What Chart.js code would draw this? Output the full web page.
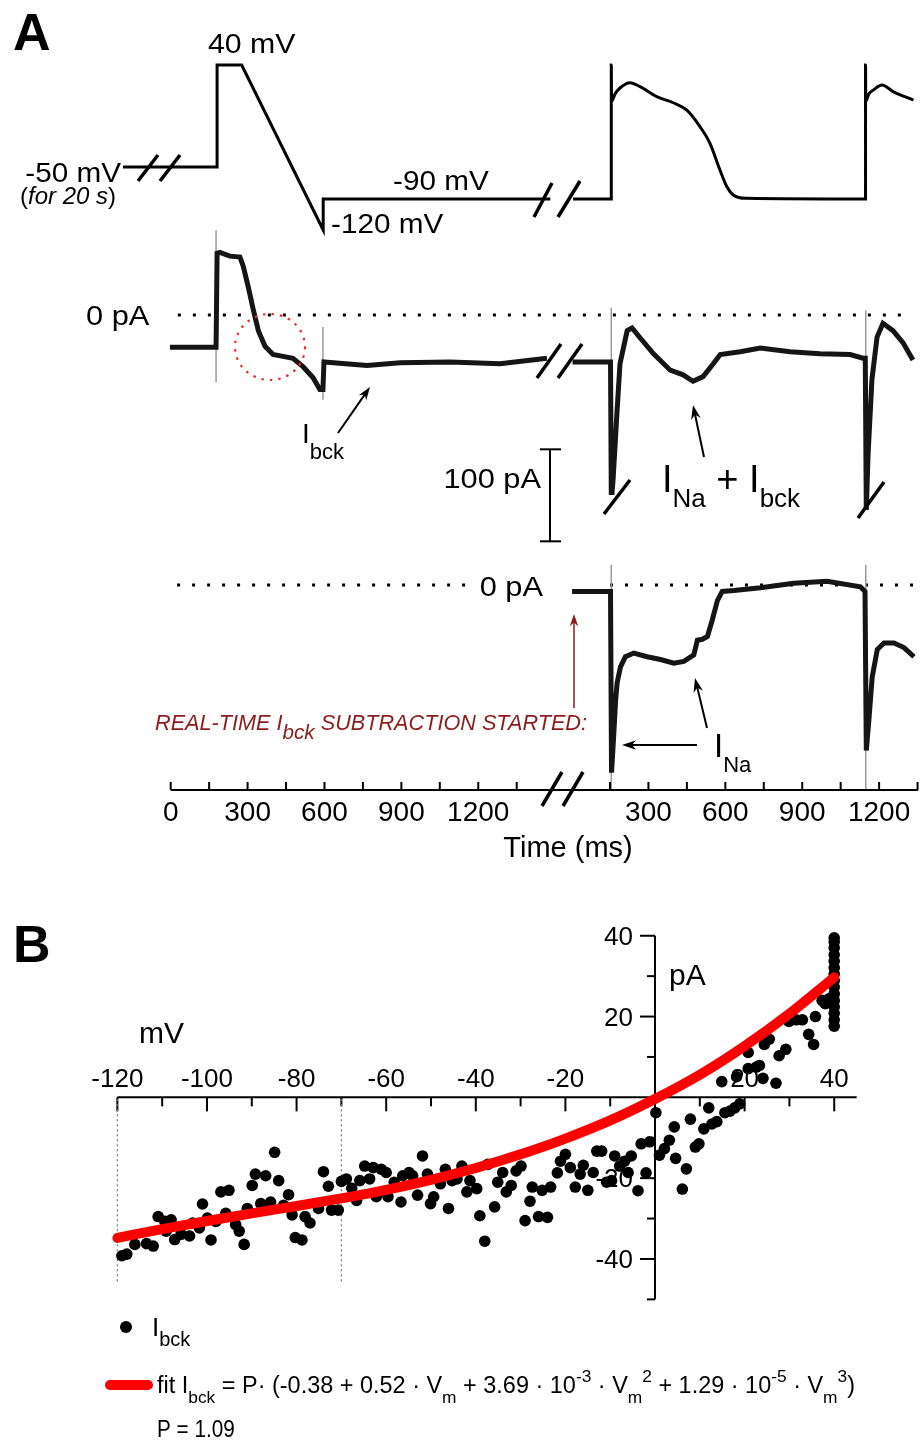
<!DOCTYPE html>
<html>
<head>
<meta charset="utf-8">
<script src="https://cdn.jsdelivr.net/npm/chart.js@4.4.1/dist/chart.umd.min.js"></script>
<style>
  html, body { margin: 0; padding: 0; background: #fff; }
  #wrap { position: relative; width: 920px; height: 1444px; }
  canvas { position: absolute; left: 0; }
  #chartA { top: 0; }
  #chartB { top: 880px; }
</style>
</head>
<body>
<div id="wrap">
  <canvas id="chartA" width="920" height="880"></canvas>
  <canvas id="chartB" width="920" height="564"></canvas>
</div>
<script>
const FONT = '"Liberation Sans", Arial, sans-serif';

// ---- Panel A: time in ms, the right part sits after the axis break ----
const BREAK_OFFSET = 1564;

// voltage protocol (mV)
const vLeftT   = [-186, 181, 181, 277, 595, 595, 1481];
const vLeftMv  = [-59, -59, 40, 40, -120, -90, -90];
const vRightT  = [6, 155, 155, 156, 170, 189, 228, 267, 332, 397, 449, 501, 540, 579, 606, 631, 683, 1147, 1147, 1148, 1160, 1178, 1211, 1256, 1334];
const vRightMv = [-90, -90, 40, 5, 12, 17.7, 22.8, 19, 9.3, 3.4, -3.6, -19.8, -35.9, -61.8, -78, -86, -89.3, -90, 40, 5, 12, 15.8, 20.6, 14, 6];

// current before subtraction (pA)
const i1LeftT   = [-3, 177, 181, 192, 231, 270, 283, 303, 322, 342, 368, 399, 438, 477, 516, 555, 582, 594, 598, 766, 895, 1090, 1285, 1468];
const i1LeftPa  = [-35, -35, 67, 68, 64, 63, 53, 30, 6, -17, -34, -43, -45, -47, -56, -68, -81, -81, -51, -55, -52, -51, -53, -47];
const i1RightT  = [4, 152, 155, 158, 162, 177, 189, 217, 236, 268, 319, 385, 435, 474, 513, 553, 580, 658, 736, 853, 969, 1087, 1137, 1146, 1150, 1157, 1172, 1192, 1215, 1254, 1293, 1332];
const i1RightPa = [-51, -51, -193, -193, -179, -107, -53, -17, -14, -25, -42, -60, -65, -72, -67, -53, -43, -40, -36, -40, -42, -43, -47, -47, -212, -151, -70, -24, -9, -17, -30, -49];

// current after real-time I_bck subtraction (pA)
const i2RightT  = [2, 152, 156, 165, 172, 178, 191, 210, 243, 295, 347, 399, 438, 477, 491, 510, 530, 549, 569, 588, 633, 737, 867, 997, 1127, 1145, 1150, 1160, 1173, 1193, 1219, 1258, 1297, 1336];
const i2RightPa = [-7, -7, -204, -161, -125, -106, -89, -78, -74, -78, -81, -85, -83, -76, -60, -59, -56, -38, -17, -7, -6, -3, 2, 4, -2, -7, -180, -147, -100, -70, -63, -63, -68, -78];

// capacitive transients (grey verticals)
const cap1LeftT = [177, 594],  cap1LeftTop = [92, -13],  cap1LeftBottom = [-73, -92];
const cap1RightT = [155, 1148], cap1RightTop = [8, 5],   cap1RightBottom = [-193, -212];
const cap2RightT = [155, 1148], cap2RightTop = [22, 22], cap2RightBottom = [-223, -223];

// 0 pA reference lines
const zero1Span = [28, 1300];      // left start, right end
const zero2Left = [25, 1149];
const zero2Right = [150, 1360];

// time axis
const tickLeft = [0, 150, 300, 450, 600, 750, 900, 1050, 1200, 1350];
const labelLeft = [0, 300, 600, 900, 1200];
const tickRight = [150, 300, 450, 600, 750, 900, 1050, 1200, 1350];
const labelRight = [300, 600, 900, 1200];

// ---- Panel B: I_bck vs Vm ----
const ibckVm = [
  -119.0, -117.9, -116.1, -113.5, -112.0, -110.9, -109.4, -108.0, -109.1, -107.2,
  -105.8, -103.9, -103.2, -101.7, -101.0, -99.9, -99.1, -98.0, -96.9, -95.1,
  -95.8, -93.6, -92.8, -91.7, -91.0, -89.9, -89.2, -86.9, -88.0, -85.8,
  -84.9, -84.0, -81.8, -82.9, -81.0, -80.3, -78.8, -78.1, -77.0, -75.1,
  -74.0, -72.9, -72.2, -70.7, -70.0, -68.9, -67.7, -66.6, -65.9, -64.8,
  -63.7, -62.9, -62.2, -61.1, -60.0, -59.6,
  -58.2, -56.7, -56.3, -54.9, -54.1, -53.0, -51.9, -50.8, -50.1, -49.4,
  -47.9, -46.8, -46.1, -45.3, -44.2, -43.1, -42.0, -41.3, -39.8, -39.1,
  -38.0, -37.3, -35.8, -35.1, -34.0, -33.2, -32.1, -31.0, -29.9, -29.0,
  -27.9, -27.4, -25.2, -23.3, -26.0, -24.0, -21.8, -21.1, -20.0, -18.9,
  -17.8, -16.7, -16.0, -15.0, -13.8, -13.0, -11.9, -10.8, -9.7, -9.0,
  -7.9, -6.8, -5.3, -6.0,
  0.2, -3.1, -1.2, -2.0, -3.8, 1.0, 2.1, 3.2, 4.3, 4.6,
  6.1, 7.0, 7.9, 9.0, 9.8, 10.9, 12.0, 12.7, 13.8, 14.9,
  15.6, 16.7, 17.8, 18.9, 18.2, 20.8, 20.8, 22.6, 23.3, 24.1,
  24.4, 25.5, 27.0, 27.7, 29.2, 29.9, 31.5, 32.9, 34.3, 35.4,
  35.8, 37.3, 38.0, 38.8,
  40, 40, 40, 40, 40, 40, 40, 40, 40, 40, 40, 40, 40, 40, 40
];
const ibckPa = [
  -39.2, -38.8, -36.4, -36.2, -36.8, -29.5, -30.7, -30.3, -33.1, -35.2,
  -33.9, -34.3, -31.1, -32.3, -26.4, -29.9, -35.3, -30.7, -23.4, -23.0,
  -28.7, -31.5, -33.1, -36.4, -27.5, -21.8, -19.0, -19.4, -26.3, -25.9,
  -13.6, -20.6, -24.1, -26.7, -29.1, -34.7, -35.3, -29.5, -31.1, -27.5,
  -18.4, -22.0, -27.9, -27.9, -20.8, -20.2, -22.5, -25.5, -20.6, -17.0,
  -20.2, -17.4, -24.6, -17.8, -18.6, -24.6,
  -21.0, -25.9, -19.4, -18.6, -19.4, -24.2, -14.5, -19.0, -26.3, -24.6,
  -21.4, -17.8, -27.5, -20.6, -20.2, -17.0, -23.4, -20.6, -22.6, -29.3,
  -35.6, -16.6, -27.1, -21.0, -18.6, -23.4, -21.8, -18.2, -17.0, -30.5,
  -25.7, -22.2, -23.0, -22.2, -29.5, -29.7, -18.7, -15.8, -14.1, -17.4,
  -22.2, -19.0, -16.8, -23.0, -18.6, -13.3, -13.3, -21.0, -20.6, -14.5,
  -17.0, -15.8, -14.5, -18.6,
  -3.8, -11.5, -11.0, -18.7, -23.1, -14.3, -12.7, -10.6, -7.3, -15.1,
  -22.7, -17.7, -5.4, -12.3, -11.5, -7.8, -2.6, -6.6, -6.0, 3.9,
  -3.8, -3.4, -2.6, -1.6, 5.1, 11.1, 7.1, 7.5, 7.9, 4.7,
  13.1, 14.4, 3.5, 10.3, 11.9, 18.8, 19.2, 19.2, 15.6, 13.1,
  20.0, 24.0, 23.2, 24.4,
  39.5, 38.5, 37.0, 35.3, 33.7, 32.1, 30.5, 28.9, 27.3, 25.6, 24.0, 22.4, 20.8, 19.2, 17.6
];
const fitVm = [-120, -110, -100, -90, -80, -70, -60, -50, -40, -30, -20, -10, 0, 10, 20, 30, 40];
const fitPa = [-34.8, -32.6, -30.6, -28.7, -26.9, -25.0, -22.9, -20.4, -17.5, -14.1, -10.2, -5.7, -0.4, 5.6, 12.7, 20.7, 29.7];
const xTicksB = [-120, -110, -100, -90, -80, -70, -60, -50, -40, -30, -20, -10, 10, 20, 30, 40];
const xLabelsB = [-120, -100, -80, -60, -40, -20, 20, 40];
const yTicksB = [40, 30, 20, 10, -10, -20, -30, -40, -50];
const yLabelsB = [40, 20, -20, -40];
const dottedVm = [-120, -70];

// ---------- helpers ----------
const pts = (xs, ys, off = 0) => xs.map((x, i) => ({ x: x + off, y: ys[i] }));

function verticals(ts, tops, bottoms, off = 0) {
  const out = [];
  ts.forEach((t, i) => {
    out.push({ x: t + off, y: tops[i] }, { x: t + off, y: bottoms[i] }, { x: t + off, y: null });
  });
  return out;
}

function rangeFor(value, px, pxPerUnit, size) {
  const max = value + px / pxPerUnit;
  return { min: max - size / pxPerUnit, max: max };
}

function rangeX(value, px, pxPerUnit, size) {
  const min = value - px / pxPerUnit;
  return { min: min, max: min + size / pxPerUnit };
}

function line(ctx, x1, y1, x2, y2) {
  ctx.beginPath(); ctx.moveTo(x1, y1); ctx.lineTo(x2, y2); ctx.stroke();
}

function slash(ctx, cx, cy, dx, dy) {
  ctx.save(); ctx.lineWidth = 3.5; ctx.strokeStyle = '#000'; ctx.lineCap = 'butt';
  line(ctx, cx - dx, cy + dy, cx + dx, cy - dy);
  ctx.restore();
}

function arrow(ctx, x1, y1, x2, y2, color, lw, head) {
  ctx.save(); ctx.strokeStyle = color; ctx.fillStyle = color; ctx.lineWidth = lw;
  const a = Math.atan2(y2 - y1, x2 - x1);
  line(ctx, x1, y1, x2 - Math.cos(a) * head * 0.6, y2 - Math.sin(a) * head * 0.6);
  ctx.beginPath();
  ctx.moveTo(x2, y2);
  ctx.lineTo(x2 - head * Math.cos(a - 0.33), y2 - head * Math.sin(a - 0.33));
  ctx.lineTo(x2 - head * 0.65 * Math.cos(a), y2 - head * 0.65 * Math.sin(a));
  ctx.lineTo(x2 - head * Math.cos(a + 0.33), y2 - head * Math.sin(a + 0.33));
  ctx.closePath(); ctx.fill();
  ctx.restore();
}

// parts: [text, 'n' | 'b' (sub) | 'p' (sup), italic?]
function rich(ctx, x, y, parts, o) {
  const size = o.size, small = o.small || size * 0.72;
  const fontFor = p => ((o.italic || p[2]) ? 'italic ' : '') + (o.bold ? 'bold ' : '') +
    (p[1] === 'n' ? size : small) + 'px ' + FONT;
  ctx.save();
  let total = 0;
  parts.forEach(p => { ctx.font = fontFor(p); total += ctx.measureText(p[0]).width; });
  const sx = o.width ? o.width / total : (o.sx || 1);
  const w = total * sx;
  const x0 = o.align === 'right' ? x - w : o.align === 'center' ? x - w / 2 : x;
  ctx.translate(x0, y); ctx.scale(sx, 1);
  ctx.fillStyle = o.color || '#000'; ctx.textAlign = 'left'; ctx.textBaseline = 'alphabetic';
  let cx = 0;
  parts.forEach(p => {
    ctx.font = fontFor(p);
    const dy = p[1] === 'b' ? (o.subDy || size * 0.45) : p[1] === 'p' ? -(o.supDy || size * 0.45) : 0;
    ctx.fillText(p[0], cx, dy);
    cx += ctx.measureText(p[0]).width;
  });
  ctx.restore();
}

const txt = (ctx, s, x, y, o) => rich(ctx, x, y, [[s, 'n']], o);

// ---------- Panel A ----------
const W = 920, HA = 880, HB = 564;
const xA = rangeX(0, 170.7, 0.2563, W);
const yV = rangeFor(40, 65, 1.03125, HA);
const yI1 = rangeFor(0, 315, 0.92, HA);
const yI2 = rangeFor(0, 585, 0.92, HA);

const traceStyle = { borderColor: '#151515', borderWidth: 5, pointRadius: 0, tension: 0, fill: false, order: 1 };
const dotStyle = { borderColor: '#000', borderWidth: 3, borderDash: [3, 12], pointRadius: 0, order: 5 };

const panelAPlugin = {
  id: 'panelA',
  afterDatasetsDraw(chart) {
    const ctx = chart.ctx;
    const sx = chart.scales.x, s1 = chart.scales.yI1;
    ctx.save();

    // break marks on traces
    slash(ctx, 148, 168, 10, 13); slash(ctx, 170, 168, 10, 13);
    slash(ctx, 543, 200, 9, 17); slash(ctx, 569, 199, 11, 18);
    slash(ctx, 549, 361, 12, 17); slash(ctx, 570, 361, 12, 17);
    slash(ctx, 617, 497, 13, 17); slash(ctx, 871, 500, 13, 18);

    // time axis with break
    const axY = 790;
    ctx.strokeStyle = '#000'; ctx.lineWidth = 2;
    line(ctx, sx.getPixelForValue(0), axY, 918, axY);
    tickLeft.forEach(t => { const px = sx.getPixelForValue(t); line(ctx, px, axY, px, axY - 8); });
    tickRight.forEach(t => { const px = sx.getPixelForValue(t + BREAK_OFFSET); line(ctx, px, axY, px, axY - 8); });
    labelLeft.forEach(t => txt(ctx, String(t), sx.getPixelForValue(t), 821, { size: 28, align: 'center' }));
    labelRight.forEach(t => txt(ctx, String(t), sx.getPixelForValue(t + BREAK_OFFSET), 821, { size: 28, align: 'center' }));
    slash(ctx, 552, 789, 10, 17); slash(ctx, 573, 789, 10, 17);
    txt(ctx, 'Time (ms)', 568, 857, { size: 29, align: 'center' });

    // 100 pA scale bar on the current axis
    const bx = 550, bt = s1.getPixelForValue(-146), bb = s1.getPixelForValue(-246);
    ctx.lineWidth = 2;
    line(ctx, bx, bt, bx, bb); line(ctx, bx - 10, bt, bx + 11, bt); line(ctx, bx - 10, bb, bx + 11, bb);
    txt(ctx, '100 pA', 541, 488, { size: 28, sx: 1.1, align: 'right' });

    // red dotted circle
    ctx.save();
    ctx.strokeStyle = '#e8302c'; ctx.lineWidth = 2.2; ctx.setLineDash([2.5, 6]);
    ctx.beginPath(); ctx.ellipse(270, 347, 35, 33, 0, 0, Math.PI * 2); ctx.stroke();
    ctx.restore();

    // labels
    txt(ctx, 'A', 13, 50, { size: 52, bold: true });
    txt(ctx, '40 mV', 208, 53, { size: 27, sx: 1.12 });
    txt(ctx, '-50 mV', 121, 182, { size: 27, sx: 1.1, align: 'right' });
    rich(ctx, 20, 204, [['(', 'n'], ['for 20 s', 'n', true], [')', 'n']], { size: 24 });
    txt(ctx, '-90 mV', 393, 190, { size: 27, sx: 1.1 });
    txt(ctx, '-120 mV', 331, 233, { size: 27, sx: 1.1 });
    txt(ctx, '0 pA', 86, 325, { size: 28, sx: 1.1 });
    txt(ctx, '0 pA', 543, 596, { size: 28, sx: 1.1, align: 'right' });

    rich(ctx, 302, 443, [['I', 'n'], ['bck', 'b']], { size: 28, small: 22, subDy: 16 });
    arrow(ctx, 338, 433, 370, 387, '#000', 2, 14);

    rich(ctx, 662, 492, [['I', 'n'], ['Na', 'b'], [' + I', 'n'], ['bck', 'b']], { size: 38, small: 26, subDy: 15 });
    arrow(ctx, 704, 457, 693, 405, '#000', 2, 15);

    rich(ctx, 714, 757, [['I', 'n'], ['Na', 'b']], { size: 33, small: 22, subDy: 15 });
    arrow(ctx, 697, 745, 622, 745, '#000', 2, 15);
    arrow(ctx, 707, 728, 695, 678, '#000', 2, 15);

    rich(ctx, 155, 730, [['REAL-TIME I', 'n'], ['bck', 'b'], [' SUBTRACTION STARTED:', 'n']],
      { size: 22, small: 21, subDy: 9, italic: true, color: '#8b1c1c', width: 432 });
    arrow(ctx, 574, 708, 574, 614, '#8b1c1c', 1.5, 13);

    ctx.restore();
  }
};

new Chart(document.getElementById('chartA'), {
  type: 'line',
  data: {
    datasets: [
      Object.assign({ data: pts([zero1Span[0], zero1Span[1] + BREAK_OFFSET], [0, 0]), yAxisID: 'yI1' }, dotStyle),
      Object.assign({ data: pts(zero2Left, [0, 0]), yAxisID: 'yI2' }, dotStyle),
      Object.assign({ data: pts(zero2Right, [0, 0], BREAK_OFFSET), yAxisID: 'yI2' }, dotStyle),
      { data: verticals(cap1LeftT, cap1LeftTop, cap1LeftBottom)
          .concat(verticals(cap1RightT, cap1RightTop, cap1RightBottom, BREAK_OFFSET)),
        yAxisID: 'yI1', borderColor: '#9a9a9a', borderWidth: 1.5, pointRadius: 0, spanGaps: false, order: 4 },
      { data: verticals(cap2RightT, cap2RightTop, cap2RightBottom, BREAK_OFFSET),
        yAxisID: 'yI2', borderColor: '#9a9a9a', borderWidth: 1.5, pointRadius: 0, spanGaps: false, order: 4 },
      Object.assign({ data: pts(vLeftT, vLeftMv), yAxisID: 'yV' }, traceStyle, { borderWidth: 3, borderColor: '#000' }),
      Object.assign({ data: pts(vRightT, vRightMv, BREAK_OFFSET), yAxisID: 'yV' }, traceStyle,
        { borderWidth: 3, borderColor: '#000', cubicInterpolationMode: 'monotone' }),
      Object.assign({ data: pts(i1LeftT, i1LeftPa), yAxisID: 'yI1' }, traceStyle),
      Object.assign({ data: pts(i1RightT, i1RightPa, BREAK_OFFSET), yAxisID: 'yI1' }, traceStyle),
      Object.assign({ data: pts(i2RightT, i2RightPa, BREAK_OFFSET), yAxisID: 'yI2' }, traceStyle)
    ]
  },
  options: {
    responsive: false,
    animation: false,
    devicePixelRatio: 1,
    layout: { padding: 0 },
    plugins: { legend: { display: false }, tooltip: { enabled: false } },
    scales: {
      x: { type: 'linear', display: false, min: xA.min, max: xA.max },
      yV: { type: 'linear', display: false, min: yV.min, max: yV.max },
      yI1: { type: 'linear', display: false, min: yI1.min, max: yI1.max },
      yI2: { type: 'linear', display: false, min: yI2.min, max: yI2.max }
    }
  },
  plugins: [panelAPlugin]
});

// ---------- Panel B ----------
const xB = rangeX(0, 657.5, 4.5375, W);
const yB = rangeFor(0, 216, 4.125, HB);

const panelBPlugin = {
  id: 'panelB',
  beforeDatasetsDraw(chart) {
    const ctx = chart.ctx, sx = chart.scales.x, sy = chart.scales.y;
    const x0 = sx.getPixelForValue(0), y0 = sy.getPixelForValue(0);
    ctx.save();
    ctx.strokeStyle = '#000'; ctx.lineWidth = 2;
    // x axis
    line(ctx, sx.getPixelForValue(-120), y0, sx.getPixelForValue(45), y0);
    xTicksB.forEach(v => {
      const px = sx.getPixelForValue(v);
      line(ctx, px, y0, px, y0 + (v % 20 === 0 ? 14 : 9));
    });
    xLabelsB.forEach(v => txt(ctx, String(v), sx.getPixelForValue(v), y0 - 10, { size: 26, align: 'center' }));
    // y axis
    line(ctx, x0, sy.getPixelForValue(40), x0, sy.getPixelForValue(-50));
    yTicksB.forEach(v => {
      const py = sy.getPixelForValue(v);
      line(ctx, x0, py, x0 - (v % 20 === 0 ? 15 : 8), py);
    });
    yLabelsB.forEach(v => txt(ctx, String(v), x0 - 22, sy.getPixelForValue(v) + 9, { size: 26, align: 'right' }));
    // dotted guides
    ctx.strokeStyle = '#777'; ctx.lineWidth = 1.2; ctx.setLineDash([2, 3]);
    dottedVm.forEach(v => {
      const px = sx.getPixelForValue(v);
      line(ctx, px, y0 + 2, px, sy.getPixelForValue(-46));
    });
    ctx.restore();
  },
  afterDraw(chart) {
    const ctx = chart.ctx;
    ctx.save();
    txt(ctx, 'B', 13, 82, { size: 52, bold: true });
    txt(ctx, 'mV', 139, 163, { size: 30 });
    txt(ctx, 'pA', 669, 105, { size: 30 });
    // legend
    ctx.fillStyle = '#000';
    ctx.beginPath(); ctx.arc(126, 447, 6, 0, Math.PI * 2); ctx.fill();
    rich(ctx, 152, 456, [['I', 'n'], ['bck', 'b']], { size: 26, small: 20, subDy: 10 });
    ctx.strokeStyle = '#ff0000'; ctx.lineWidth = 10; ctx.lineCap = 'round';
    line(ctx, 110, 505, 148, 505);
    rich(ctx, 157, 513, [
      ['fit I', 'n'], ['bck', 'b'], [' = P\u00b7 (-0.38 + 0.52 \u00b7 V', 'n'], ['m', 'b'],
      [' + 3.69 \u00b7 10', 'n'], ['-3', 'p'], [' \u00b7 V', 'n'], ['m', 'b'], ['2', 'p'],
      [' + 1.29 \u00b7 10', 'n'], ['-5', 'p'], [' \u00b7 V', 'n'], ['m', 'b'], ['3', 'p'], [')', 'n']
    ], { size: 23, small: 17, subDy: 10, supDy: 11, width: 698 });
    txt(ctx, 'P = 1.09', 157, 557, { size: 23, sx: 0.9 });
    ctx.restore();
  }
};

new Chart(document.getElementById('chartB'), {
  type: 'scatter',
  data: {
    datasets: [
      { type: 'line', label: 'fit', data: pts(fitVm, fitPa), borderColor: '#ff0000', borderWidth: 10,
        pointRadius: 0, cubicInterpolationMode: 'monotone', borderCapStyle: 'round', fill: false, order: 0 },
      { label: 'Ibck', data: pts(ibckVm, ibckPa), backgroundColor: '#000', borderWidth: 0,
        pointRadius: 5.8, order: 1 }
    ]
  },
  options: {
    responsive: false,
    animation: false,
    devicePixelRatio: 1,
    layout: { padding: 0 },
    plugins: { legend: { display: false }, tooltip: { enabled: false } },
    scales: {
      x: { type: 'linear', display: false, min: xB.min, max: xB.max },
      y: { type: 'linear', display: false, min: yB.min, max: yB.max }
    }
  },
  plugins: [panelBPlugin]
});
</script>
</body>
</html>
